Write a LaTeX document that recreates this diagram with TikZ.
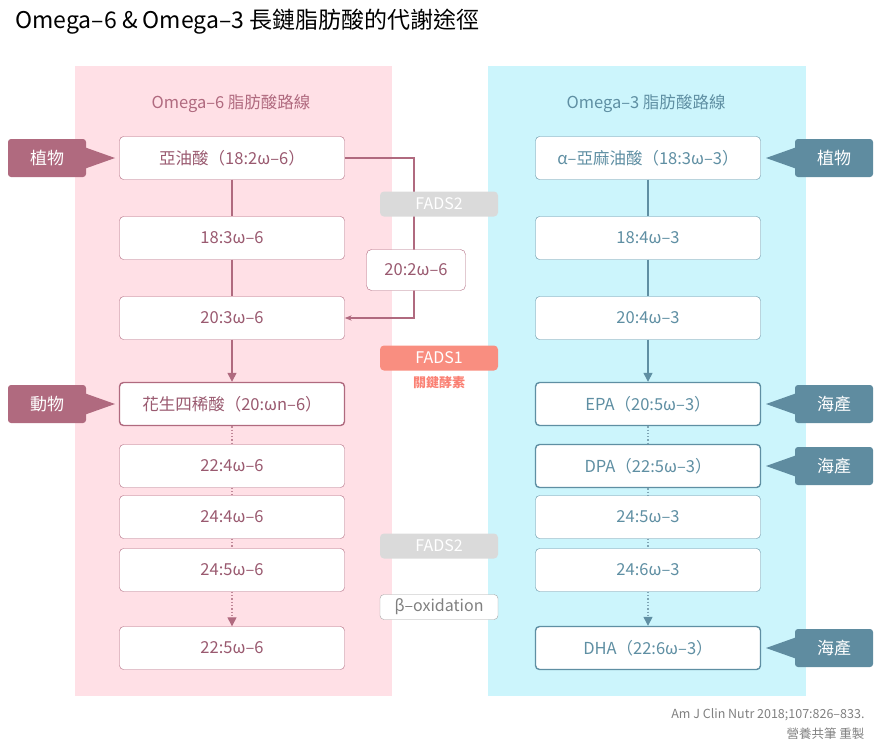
\documentclass[tikz,border=0pt]{standalone}
\usepackage{fontspec}
\setmainfont{Noto Sans CJK TC}
\usetikzlibrary{arrows.meta,positioning,shapes.symbols}
\definecolor{pinkbg}{HTML}{FFE0E6}
\definecolor{bluebg}{HTML}{CCF5FC}
\definecolor{pinkln}{HTML}{B06A7F}
\definecolor{pinktx}{HTML}{9A5A70}
\definecolor{bluetx}{HTML}{5F8FA3}
\definecolor{bluetag}{HTML}{5F8CA0}
\definecolor{fadsgray}{HTML}{DADADA}
\definecolor{fadsred}{HTML}{F98E80}
\tikzset{
  box/.style={draw, rounded corners=4pt, fill=white, minimum width=225pt, minimum height=43pt, font=\fontsize{16.5}{19}\selectfont},
  obox/.style={box, draw=pinkln, text=pinktx},
  nbox/.style={box, draw=bluetx, text=bluetx},
  enz/.style={rounded corners=4pt, minimum width=118pt, minimum height=25pt, inner sep=0pt, font=\fontsize{16}{19}\selectfont},
  tag/.style={rounded corners=3pt, text=white, minimum width=78pt, minimum height=38pt, font=\fontsize{17}{20}\selectfont},
  line/.style={line width=1.3pt},
}
\begin{document}
\begin{tikzpicture}[x=1pt,y=-1pt]
        \useasboundingbox (0,0) rectangle (890,752);
        \node[anchor=west, font=\fontsize{23}{27}\selectfont] (title) at (12,22) {Omega–6 \& Omega–3 長鏈脂肪酸的代謝途徑};
        \fill[pinkbg] (75,66) rectangle (392,696);
        \fill[bluebg] (488,66) rectangle (806,696);
        \node[text=pinkln, font=\fontsize{16.5}{19}\selectfont] (t6) at (231,104) {Omega–6 脂肪酸路線};
        \node[text=bluetx, font=\fontsize{16.5}{19}\selectfont] (t3) at (646,104) {Omega–3 脂肪酸路線};
        % omega-6 column
        \node[obox] (a1) at (232,158) {亞油酸（18:2ω–6）};
        \node[obox] (a2) at (232,238) {18:3ω–6};
        \node[obox] (a3) at (232,318) {20:3ω–6};
        \node[obox, line width=1.4pt] (a4) at (232,404) {花生四稀酸（20:ωn–6）};
        \node[obox] (a5) at (232,466) {22:4ω–6};
        \node[obox] (a6) at (232,517) {24:4ω–6};
        \node[obox] (a7) at (232,570) {24:5ω–6};
        \node[obox] (a8) at (232,648) {22:5ω–6};
        % omega-3 column
        \node[nbox] (b1) at (648,158) {α–亞麻油酸（18:3ω–3）};
        \node[nbox] (b2) at (648,238) {18:4ω–3};
        \node[nbox] (b3) at (648,318) {20:4ω–3};
        \node[nbox, line width=1.4pt] (b4) at (648,404) {EPA（20:5ω–3）};
        \node[nbox, line width=1.4pt] (b5) at (648,466) {DPA（22:5ω–3）};
        \node[nbox] (b6) at (648,517) {24:5ω–3};
        \node[nbox] (b7) at (648,570) {24:6ω–3};
        \node[nbox, line width=1.4pt] (b8) at (648,648) {DHA（22:6ω–3）};
        % bypass
        \coordinate (bp1) at (414,158);
        \coordinate (bp2) at (414,318);
        \draw[line, pinkln, -{Stealth[length=7pt]}] (a1.east) -- (bp1) -- (bp2) -- (a3.east);
        % enzymes
        \node[enz, fill=fadsgray, text=white] (f2a) at (439,204) {FADS2};
        \node[draw=pinkln, rounded corners=5pt, fill=white, text=pinktx, minimum width=99pt, minimum height=41pt, font=\fontsize{16.5}{19}\selectfont] (mid) at (416,270) {20:2ω–6};
        \node[enz, fill=fadsred, text=white] (f1) at (439,358) {FADS1};
        \node[text=fadsred!90!red, font=\fontsize{13}{15}\selectfont\bfseries] (key) at (439,383) {關鍵酵素};
        \node[enz, fill=fadsgray, text=white] (f2b) at (439,546) {FADS2};
        \node[enz, draw=gray!70, fill=white, text=gray] (beta) at (439,607) {β–oxidation};
        % connectors
        \draw[line, pinkln] (a1) -- (a2);
        \draw[line, pinkln] (a2) -- (a3);
        \draw[line, pinkln, -{Triangle[length=9pt,width=9pt]}] (a3) -- (a4);
        \draw[line, bluetx] (b1) -- (b2);
        \draw[line, bluetx] (b2) -- (b3);
        \draw[line, bluetx, -{Triangle[length=9pt,width=9pt]}] (b3) -- (b4);
        \foreach \i/\j in {4/5,5/6,6/7} {
          \draw[line, pinkln!80, dotted] (a\i) -- (a\j);
          \draw[line, bluetx!80, dotted] (b\i) -- (b\j);
        }
        \draw[line, pinkln!80, dotted, -{Triangle[length=9pt,width=9pt,color=pinkln]}] (a7) -- (a8);
        \draw[line, bluetx!80, dotted, -{Triangle[length=9pt,width=9pt,color=bluetx]}] (b7) -- (b8);
        % source tags
        \foreach \n/\y/\t in {p1/158/植物, p2/404/動物} {
          \fill[pinkln] (115,\y) -- (84,\y-11) -- (84,\y+11) -- cycle;
          \node[tag, fill=pinkln] (\n) at (47,\y) {\t};
        }
        \foreach \n/\y/\t in {q1/158/植物, q2/404/海產, q3/466/海產, q4/648/海產} {
          \fill[bluetag] (766,\y) -- (797,\y-11) -- (797,\y+11) -- cycle;
          \node[tag, fill=bluetag] (\n) at (834,\y) {\t};
        }
        % source
        \node[anchor=east, text=gray, font=\fontsize{12.5}{15}\selectfont] (ref) at (868,715) {Am J Clin Nutr 2018;107:826–833.};
        \node[anchor=east, text=gray, font=\fontsize{12.5}{15}\selectfont] (by) at (868,734) {營養共筆 重製};
\end{tikzpicture}
\end{document}
